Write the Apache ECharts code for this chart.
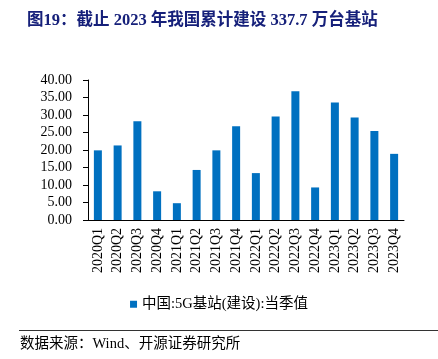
<!DOCTYPE html>
<html><head><meta charset="utf-8">
<script src="https://cdn.jsdelivr.net/npm/echarts@6/dist/echarts.min.js"></script>
<style>html,body{margin:0;padding:0;background:#fff}#c{width:438px;height:359px}</style>
</head><body><div id="c"></div>
<script>
const categories = ['2020Q1','2020Q2','2020Q3','2020Q4','2021Q1','2021Q2','2021Q3','2021Q4','2022Q1','2022Q2','2022Q3','2022Q4','2023Q1','2023Q2','2023Q3','2023Q4'];
const values = [19.9, 21.3, 28.2, 8.2, 4.8, 14.3, 19.9, 26.8, 13.4, 29.6, 36.8, 9.3, 33.6, 29.3, 25.4, 18.9];
const seriesName = '中国:5G基站(建设):当季值';
const titleText = '图19：截止 2023 年我国累计建设 337.7 万台基站';
const sourceText = '数据来源：Wind、开源证券研究所';
const FONT = '"Liberation Serif", "Times New Roman", "Noto Sans CJK SC", serif';
const chart = echarts.init(document.getElementById('c'), null, {renderer:'canvas'});
chart.setOption({
  animation:false,
  title:{text:titleText,left:22,top:7,textStyle:{fontFamily:FONT,fontSize:16.5,fontWeight:'bold',color:'#16207a'}},
  legend:{data:[seriesName],left:'center',top:292,itemWidth:7,itemHeight:7,itemGap:5,icon:'rect',
    textStyle:{fontFamily:FONT,fontSize:14.5,color:'#000'}},
  grid:{left:88,right:34,top:80,height:140},
  xAxis:{type:'category',data:categories,boundaryGap:true,
    axisLine:{lineStyle:{color:'#000',width:1}},
    axisTick:{inside:true,length:5,lineStyle:{color:'#000'}},
    axisLabel:{rotate:90,interval:0,margin:8,fontFamily:FONT,fontSize:14,color:'#000'}},
  yAxis:{type:'value',min:0,max:40,interval:5,
    axisLine:{show:true,lineStyle:{color:'#000'}},
    axisTick:{show:true,length:5,lineStyle:{color:'#000'}},
    splitLine:{show:false},
    axisLabel:{formatter:v=>v.toFixed(2),margin:16,fontFamily:FONT,fontSize:14,color:'#000'}},
  series:[{name:seriesName,type:'bar',data:values,barWidth:8,itemStyle:{color:'#0070c0'}}],
  graphic:[
    {type:'line',shape:{x1:19,y1:330.5,x2:438,y2:330.5},style:{stroke:'#333',lineWidth:1}},
    {type:'text',left:20,top:337,style:{text:sourceText,font:'14.5px '+FONT,fill:'#000'}}
  ]
});
</script></body></html>
